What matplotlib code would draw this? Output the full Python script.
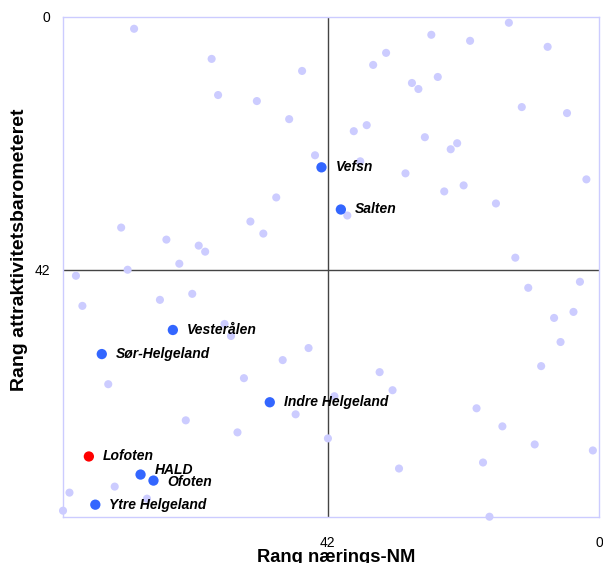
import matplotlib
matplotlib.use("Agg")
import matplotlib.pyplot as plt

plt.rcParams['font.family'] = ['Liberation Sans', 'DejaVu Sans']

# rank in naerings-NM (x) and rank in attraktivitetsbarometeret (y), all municipalities
rank_nm = [72, 60, 46, 59, 53, 48, 44, 50, 74, 54, 52, 67, 62, 61, 65, 73, 81,
           14, 26, 20, 8, 33, 35, 25, 29, 28, 12, 5, 36, 38, 27, 22, 23, 37, 30,
           2, 21, 24, 16, 39, 13,
           63, 68, 80, 58, 57, 45, 49, 55, 76, 47, 64, 56, 75, 82, 70, 83,
           11, 3, 7, 4, 6, 9, 34, 32, 41, 19, 15, 10, 1, 42, 18, 31, 17]
rank_attr = [2, 7, 9, 13, 14, 17, 23, 30, 35, 34, 36, 37, 38, 39, 41, 42, 43,
             1, 3, 4, 5, 6, 8, 10, 11, 12, 15, 16, 18, 19, 20, 21, 22, 24, 26,
             27, 28, 29, 31, 33, 40,
             46, 47, 48, 51, 53, 55, 57, 60, 61, 66, 67, 69, 78, 79, 80, 82,
             45, 44, 50, 49, 54, 58, 59, 62, 63, 65, 68, 71, 72, 70, 74, 75, 83]

# highlighted regions
regions = ['Vefsn', 'Salten', 'Vesterålen', 'Sør-Helgeland', 'Indre Helgeland',
           'HALD', 'Ofoten', 'Ytre Helgeland']
reg_nm = [43, 40, 66, 77, 51, 71, 69, 78]
reg_attr = [25, 32, 52, 56, 64, 76, 77, 81]

lofoten_nm = [79]
lofoten_attr = [73]

fig = plt.figure(figsize=(6.03, 5.63), dpi=100)
ax = fig.add_axes([0.1045, 0.0822, 0.8894, 0.8881])

ax.scatter(rank_nm, rank_attr, s=34, color='#ccccff', edgecolors='none', zorder=3, clip_on=False)
ax.scatter(reg_nm, reg_attr, s=55, color='#3366ff', edgecolors='none', zorder=4, clip_on=False)
ax.scatter(lofoten_nm, lofoten_attr, s=55, color='#ff0000', edgecolors='none', zorder=4, clip_on=False)

for name, x, y in zip(regions, reg_nm, reg_attr):
    dy = 0
    if name == 'HALD':
        dy = 3
    elif name == 'Ofoten':
        dy = -1
    ax.annotate(name, (x, y), xytext=(10, dy), textcoords='offset points',
                fontsize=10, fontweight='bold', fontstyle='italic', va='center', zorder=5)
ax.annotate('Lofoten', (lofoten_nm[0], lofoten_attr[0]), xytext=(10, 0), textcoords='offset points',
            fontsize=10, fontweight='bold', fontstyle='italic', va='center', zorder=5)

ax.set_xlim(83, 0)
ax.set_ylim(83, 0)
ax.axhline(42, color='#444444', lw=1, zorder=2)
ax.axvline(42, color='#444444', lw=1, zorder=2)

ax.set_xticks([42, 0])
ax.set_yticks([0, 42])
ax.tick_params(length=0, labelsize=10)
ax.tick_params(axis='x', pad=14)
ax.tick_params(axis='y', pad=9)
for sp in ax.spines.values():
    sp.set_color('#ccccff')
    sp.set_linewidth(1)

ax.set_xlabel('Rang nærings-NM', fontsize=13.2, fontweight='bold')
ax.set_ylabel('Rang attraktivitetsbarometeret', fontsize=14, fontweight='bold')
ax.xaxis.set_label_coords(0.51, -0.064)
ax.yaxis.set_label_coords(-0.065, 0.534)

fig.savefig('out.png', dpi=100)
